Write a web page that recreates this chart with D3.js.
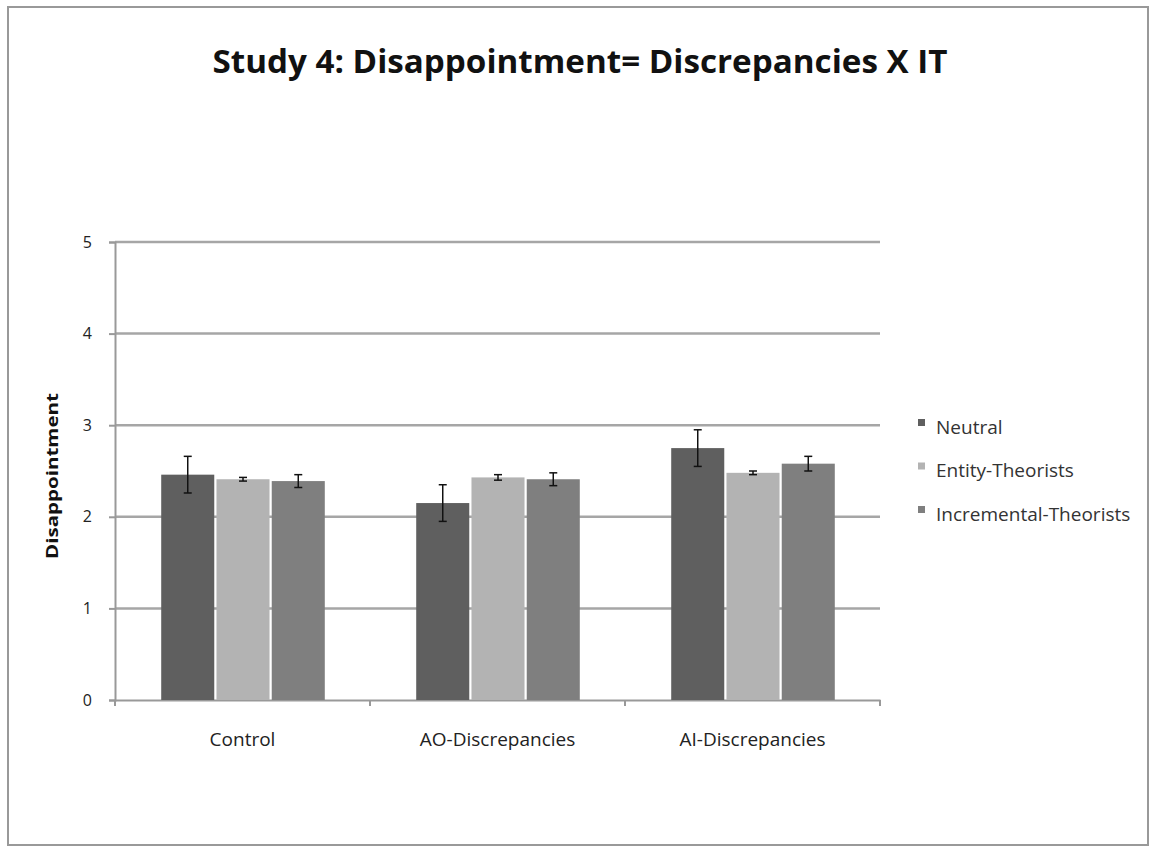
<!DOCTYPE html>
<html>
<head>
<meta charset="utf-8">
<script src="https://cdn.jsdelivr.net/npm/d3@7"></script>
<style>
  body { margin: 0; background: #fff; }
  text { font-family: "Open Sans", "Liberation Sans", sans-serif; }
</style>
</head>
<body>
<div id="chart"></div>
<script>
// chart data
const categories = ["Control", "AO-Discrepancies", "AI-Discrepancies"];
const seriesNames = ["Neutral", "Entity-Theorists", "Incremental-Theorists"];
const neutral = [2.46, 2.15, 2.75];
const entity = [2.41, 2.43, 2.48];
const incremental = [2.39, 2.41, 2.58];
const neutralErr = [0.2, 0.2, 0.2];
const entityErr = [0.02, 0.03, 0.02];
const incrementalErr = [0.07, 0.07, 0.08];
const yTicks = [0, 1, 2, 3, 4, 5];
const colors = ["#5f5f5f", "#b3b3b3", "#7f7f7f"];

let svgWidth = 1155;
let svgHeight = 850;

let margin = { top: 242, right: 275, bottom: 150, left: 115 };
let width = svgWidth - margin.left - margin.right;
let height = svgHeight - margin.top - margin.bottom;

let svg = d3.select("#chart")
  .append("svg")
  .attr("width", svgWidth)
  .attr("height", svgHeight);

// outer frame
svg.append("rect")
  .attr("x", 8).attr("y", 7)
  .attr("width", 1140).attr("height", 838)
  .attr("fill", "#fff")
  .attr("stroke", "#999")
  .attr("stroke-width", 2);

svg.append("text")
  .attr("x", 580)
  .attr("y", 73)
  .attr("text-anchor", "middle")
  .attr("font-size", "32px")
  .attr("font-weight", "bold")
  .attr("fill", "#111")
  .attr("textLength", 735)
  .attr("lengthAdjust", "spacingAndGlyphs")
  .text("Study 4: Disappointment= Discrepancies X IT");

let chartGroup = svg.append("g")
  .attr("transform", `translate(${margin.left}, ${margin.top})`);

let x0 = d3.scaleBand()
  .domain(categories)
  .range([0, width])
  .paddingInner(0)
  .paddingOuter(0);

let x1 = d3.scaleBand()
  .domain(seriesNames)
  .range([44, x0.bandwidth() - 43])
  .padding(0.04);

let y = d3.scaleLinear()
  .domain([0, 5])
  .range([height, 0]);

// gridlines
chartGroup.selectAll(".grid")
  .data(yTicks.slice(1))
  .enter().append("line")
  .attr("x1", 0)
  .attr("x2", width)
  .attr("y1", d => y(d))
  .attr("y2", d => y(d))
  .attr("stroke", "#a6a6a6")
  .attr("stroke-width", 2.5);

// y axis
let leftAxis = d3.axisLeft(y).tickValues(yTicks).tickFormat(d3.format("d")).tickSize(6).tickPadding(17);
let yAxis = chartGroup.append("g").call(leftAxis);
yAxis.select(".domain").attr("stroke", "#999").attr("stroke-width", 2);
yAxis.selectAll(".tick line").attr("stroke", "#999").attr("stroke-width", 2);
yAxis.selectAll(".tick text")
  .attr("font-size", "16px")
  .attr("fill", "#222")
  .style("font-family", "'Open Sans', sans-serif");

// x axis
let bottomAxis = d3.axisBottom(x0).tickSize(0).tickPadding(33);
let xAxis = chartGroup.append("g")
  .attr("transform", `translate(0, ${height})`)
  .call(bottomAxis);
xAxis.select(".domain").attr("stroke", "#999").attr("stroke-width", 2);
xAxis.selectAll(".tick text")
  .attr("font-size", "19px")
  .attr("fill", "#222")
  .style("font-family", "'Open Sans', sans-serif");

// category boundary ticks
chartGroup.selectAll(".xtick")
  .data(d3.range(categories.length + 1))
  .enter().append("line")
  .attr("x1", d => d * x0.step())
  .attr("x2", d => d * x0.step())
  .attr("y1", height)
  .attr("y2", height + 6)
  .attr("stroke", "#999")
  .attr("stroke-width", 2);

// y label
chartGroup.append("text")
  .attr("transform", "rotate(-90)")
  .attr("x", -(476 - margin.top))
  .attr("y", -57)
  .attr("text-anchor", "middle")
  .attr("font-size", "16px")
  .attr("font-weight", "bold")
  .attr("fill", "#111")
  .attr("textLength", 166)
  .attr("lengthAdjust", "spacingAndGlyphs")
  .text("Disappointment");

// build rows
let values = [neutral, entity, incremental];
let errs = [neutralErr, entityErr, incrementalErr];
let rows = [];
categories.forEach((c, i) => {
  seriesNames.forEach((s, j) => {
    rows.push({ cat: c, series: s, j: j, value: values[j][i], err: errs[j][i] });
  });
});

let groups = chartGroup.selectAll(".bar")
  .data(rows)
  .enter().append("g")
  .attr("transform", d => `translate(${x0(d.cat) + x1(d.series)}, 0)`);

groups.append("rect")
  .attr("x", 0)
  .attr("y", d => y(d.value))
  .attr("width", x1.bandwidth())
  .attr("height", d => height - y(d.value))
  .attr("fill", d => colors[d.j]);

// error bars
groups.append("line")
  .attr("x1", x1.bandwidth() / 2)
  .attr("x2", x1.bandwidth() / 2)
  .attr("y1", d => y(d.value + d.err))
  .attr("y2", d => y(d.value - d.err))
  .attr("stroke", "#111")
  .attr("stroke-width", 1.5);

groups.selectAll(".cap")
  .data(d => [d.value + d.err, d.value - d.err])
  .enter().append("line")
  .attr("x1", x1.bandwidth() / 2 - 4)
  .attr("x2", x1.bandwidth() / 2 + 4)
  .attr("y1", d => y(d))
  .attr("y2", d => y(d))
  .attr("stroke", "#111")
  .attr("stroke-width", 1.5);

// legend
let legend = svg.append("g")
  .attr("transform", "translate(918, 428)");

let items = legend.selectAll(".item")
  .data(seriesNames)
  .enter().append("g")
  .attr("transform", (d, i) => `translate(0, ${i * 43.5})`);

items.append("rect")
  .attr("x", 0).attr("y", -9)
  .attr("width", 7).attr("height", 7)
  .attr("fill", (d, i) => colors[i]);

items.append("text")
  .attr("x", 18)
  .attr("y", 0)
  .attr("dy", "0.3em")
  .attr("font-size", "19px")
  .attr("fill", "#333")
  .text(d => d);
</script>
</body>
</html>
